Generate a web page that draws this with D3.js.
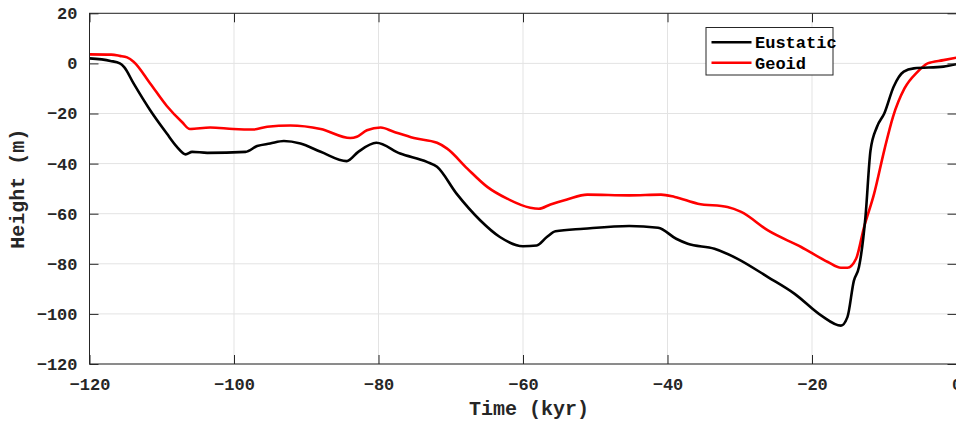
<!DOCTYPE html>
<html><head><meta charset="utf-8">
<script src="https://cdn.jsdelivr.net/npm/d3@7"></script>
<style>body{margin:0;background:#fff}svg{display:block}</style>
</head><body>
<script>
const eustaticTime = [-120,-117.1,-115.8,-115.2,-113.9,-111.6,-109.3,-107.9,-106.7,-105.8,-103.7,-98.4,-96.8,-95,-93.1,-90.8,-88,-84.4,-82.8,-80.3,-77,-73.3,-71.9,-69.2,-65.9,-63.2,-60,-58.1,-56.7,-55.5,-51.6,-45.3,-41.3,-38.8,-37.2,-33.5,-30.3,-26.1,-22.4,-18.7,-16,-15.1,-14.2,-13.5,-12.6,-11.9,-11,-10,-8.7,-7.3,-5.9,-1.8,0];
const eustatic = [2.0,1.0,0,-1.5,-8,-18.7,-28,-33.3,-36.3,-35.3,-35.7,-35.3,-33,-32,-31,-32,-35.3,-39,-35.3,-31.7,-36,-39.3,-41.3,-52,-62.7,-69.3,-73,-72.7,-69.3,-67,-66,-64.9,-65.6,-70,-72,-74,-78,-85.3,-92,-100.7,-104.7,-101.3,-86.7,-81.3,-61.3,-34.7,-25.3,-20,-9.3,-3.3,-2,-1.3,-0.3];
const geoidTime = [-120,-117,-115.8,-114.8,-113.9,-111.6,-109.3,-107.2,-106.1,-103.3,-100.1,-97.3,-95.4,-92.2,-88,-83.9,-83,-81.6,-79.7,-77.9,-75.1,-71.9,-70.5,-67.7,-64.9,-62.2,-59,-57.8,-56.2,-53.9,-51.1,-45.3,-40.9,-39,-35.8,-31.7,-29.8,-26.1,-21.5,-17.8,-16,-15.1,-13.9,-12.8,-11.4,-10,-8.8,-7.2,-5.4,-4,-1.8,0];
const geoid = [3.6,3.5,3,2.4,0.7,-8,-17,-23.4,-26.2,-25.6,-26.2,-26.4,-25.3,-24.8,-26.2,-29.8,-29.3,-26.7,-25.6,-27.3,-29.8,-31.7,-34,-42,-49.4,-54,-57.6,-58,-56.3,-54.3,-52.4,-52.7,-52.4,-53.3,-56,-57.3,-59.3,-66.7,-73.3,-79.3,-81.6,-81.6,-78,-65.4,-52,-34.7,-21.4,-10,-3.4,0,1.3,2.3];
const xTicks = [-120,-100,-80,-60,-40,-20,0];
const yTicks = [20,0,-20,-40,-60,-80,-100,-120];
const seriesNames = ["Eustatic","Geoid"];
const seriesColors = ["#000000","#ff0000"];

const W = 956, H = 421;
const L = 89.5, R = 956.5, T = 13.3, B = 364;
const font = "'Liberation Mono','Courier New',monospace";
const axisColor = "#262626";

const svg = d3.select("body").append("svg").attr("width", W).attr("height", H);
const x = d3.scaleLinear().domain([-120, 0]).range([L, R]);
const y = d3.scaleLinear().domain([-120, 20]).range([B, T]);

// grid
const g = svg.append("g");
g.selectAll(".gx").data(xTicks).join("line")
  .attr("x1", d => x(d)).attr("x2", d => x(d)).attr("y1", T).attr("y2", B)
  .attr("stroke", "#e3e3e3").attr("stroke-width", 1);
g.selectAll(".gy").data(yTicks).join("line")
  .attr("x1", L).attr("x2", R).attr("y1", d => y(d)).attr("y2", d => y(d))
  .attr("stroke", "#e3e3e3").attr("stroke-width", 1);

// clip
svg.append("clipPath").attr("id", "clip").append("rect")
  .attr("x", L).attr("y", T).attr("width", R - L).attr("height", B - T);

const line = d3.line().x(d => x(d[0])).y(d => y(d[1])).curve(d3.curveMonotoneX);
const data = [d3.zip(eustaticTime, eustatic), d3.zip(geoidTime, geoid)];
[1, 0].forEach(i => {
  svg.append("path").attr("clip-path", "url(#clip)")
    .attr("d", line(data[i])).attr("fill", "none")
    .attr("stroke", seriesColors[i]).attr("stroke-width", 2.6)
    .attr("stroke-linejoin", "round");
});

// axes
const fmt = d => d3.format("")(d).replace("-", "\u2212");
const xAxisB = d3.axisBottom(x).tickValues(xTicks).tickSize(-9).tickPadding(14).tickFormat(fmt);
const xAxisT = d3.axisTop(x).tickValues(xTicks).tickSize(-9).tickFormat("");
const yAxisL = d3.axisLeft(y).tickValues(yTicks).tickSize(-9).tickPadding(12).tickFormat(fmt);
const yAxisR = d3.axisRight(y).tickValues(yTicks).tickSize(-9).tickFormat("");

function style(sel) {
  sel.selectAll(".tick line").attr("stroke", axisColor);
  sel.selectAll("text").attr("font-family", font).attr("font-weight", "bold")
    .attr("font-size", 17).attr("fill", axisColor);
}
svg.append("g").attr("transform", `translate(0,${B})`).call(xAxisB).call(style);
svg.append("g").attr("transform", `translate(0,${T})`).call(xAxisT).call(style);
svg.append("g").attr("transform", `translate(${L},0)`).call(yAxisL).call(style);
svg.append("g").attr("transform", `translate(${R},0)`).call(yAxisR).call(style);
svg.selectAll("path.domain").remove();
svg.append("rect").attr("x", L).attr("y", T).attr("width", R - L).attr("height", B - T)
  .attr("fill", "none").attr("stroke", axisColor).attr("stroke-width", 1);

// labels
svg.append("text").attr("x", 529).attr("y", 415).attr("text-anchor", "middle")
  .attr("font-family", font).attr("font-weight", "bold").attr("font-size", 20).attr("fill", axisColor)
  .text("Time (kyr)");
svg.append("text").attr("transform", `translate(24,${(T + B) / 2}) rotate(-90)`).attr("text-anchor", "middle")
  .attr("font-family", font).attr("font-weight", "bold").attr("font-size", 20).attr("fill", axisColor)
  .text("Height (m)");

// legend
const lg = svg.append("g");
lg.append("rect").attr("x", 706).attr("y", 27.5).attr("width", 127).attr("height", 47.5)
  .attr("fill", "#fff").attr("stroke", axisColor).attr("stroke-width", 1);
seriesNames.forEach((n, i) => {
  const yy = 42.3 + i * 20.4;
  lg.append("line").attr("x1", 711.5).attr("x2", 751.5).attr("y1", yy).attr("y2", yy)
    .attr("stroke", seriesColors[i]).attr("stroke-width", 2.6);
  lg.append("text").attr("x", 755).attr("y", yy).attr("dy", "0.35em")
    .attr("font-family", font).attr("font-weight", "bold").attr("font-size", 17).attr("fill", "#000")
    .text(n);
});
</script>
</body></html>
